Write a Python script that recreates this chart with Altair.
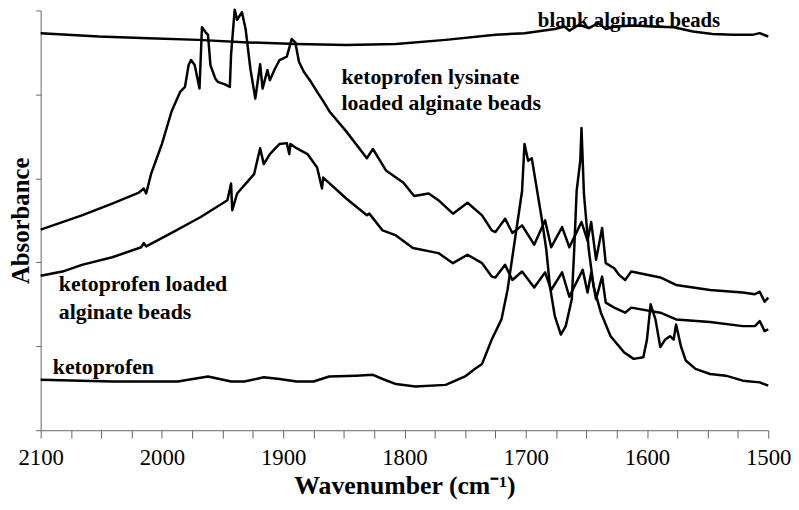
import altair as alt
import pandas as pd

# ---- data (wavenumber cm-1, absorbance a.u.) ----
blank_wn = [2100, 2052, 2011, 1970, 1929, 1889, 1848, 1807, 1766, 1725, 1701, 1676, 1668, 1664,
            1656, 1648, 1640, 1634, 1627, 1611, 1595, 1578, 1562, 1546, 1529, 1513, 1507, 1500]
blank_abs = [4.73, 4.69, 4.67, 4.65, 4.62, 4.60, 4.59, 4.60, 4.65, 4.71, 4.73, 4.78, 4.81, 4.76,
             4.83, 4.79, 4.85, 4.78, 4.81, 4.82, 4.81, 4.80, 4.75, 4.72, 4.71, 4.71, 4.73, 4.69]

lys_wn = [2100, 2066, 2041, 2019, 2015, 2013, 2009, 2000, 1992, 1985,
          1981, 1978, 1976, 1973, 1969, 1967, 1964, 1962, 1960, 1956,
          1954, 1948, 1944, 1943, 1940, 1938, 1934, 1931, 1927, 1923,
          1919, 1917, 1913, 1911, 1907, 1903, 1897, 1893, 1890, 1887,
          1883, 1878, 1872, 1867, 1862, 1848, 1831, 1826, 1815, 1801,
          1792, 1780, 1772, 1760, 1748, 1736, 1728, 1725, 1717, 1711,
          1703, 1693, 1684, 1679, 1670, 1664, 1660, 1654, 1649, 1646,
          1642, 1637, 1634, 1627, 1623, 1618, 1613, 1589, 1576, 1548,
          1521, 1511, 1507, 1503, 1500]
lys_abs = [2.39, 2.56, 2.70, 2.83, 2.88, 2.82, 3.05, 3.41, 3.80, 4.03,
           4.09, 4.35, 4.41, 4.35, 4.07, 4.80, 4.74, 4.71, 4.35, 4.19,
           4.15, 4.12, 4.09, 4.47, 5.01, 4.89, 4.98, 4.78, 4.30, 3.95,
           4.36, 4.07, 4.29, 4.17, 4.30, 4.41, 4.45, 4.66, 4.62, 4.39,
           4.27, 4.17, 4.03, 3.92, 3.80, 3.56, 3.24, 3.35, 3.09, 2.95,
           2.79, 2.82, 2.74, 2.58, 2.71, 2.56, 2.38, 2.36, 2.52, 2.35,
           2.44, 2.21, 2.50, 2.18, 2.42, 2.18, 2.30, 2.48, 2.26, 2.48,
           2.03, 2.41, 1.99, 1.93, 1.85, 1.79, 1.89, 1.82, 1.73, 1.67,
           1.64, 1.62, 1.65, 1.53, 1.58]

kl_wn = [2100, 2082, 2066, 2041, 2017, 2015, 2013, 1992, 1968, 1946,
         1943, 1942, 1938, 1924, 1919, 1916, 1911, 1903, 1897, 1895,
         1894, 1889, 1880, 1872, 1868, 1867, 1848, 1831, 1829, 1818,
         1807, 1793, 1772, 1760, 1748, 1736, 1728, 1725, 1717, 1711,
         1703, 1693, 1684, 1679, 1670, 1664, 1660, 1653, 1649, 1646,
         1642, 1637, 1634, 1627, 1618, 1613, 1589, 1576, 1548, 1521,
         1511, 1507, 1503, 1500]
kl_abs = [1.84, 1.89, 1.97, 2.06, 2.18, 2.23, 2.19, 2.35, 2.54, 2.74,
          2.94, 2.62, 2.82, 3.05, 3.36, 3.17, 3.29, 3.41, 3.42, 3.29,
          3.41, 3.36, 3.29, 3.13, 2.88, 3.01, 2.76, 2.56, 2.58, 2.38,
          2.32, 2.17, 2.11, 1.99, 2.09, 1.99, 1.83, 1.82, 1.97, 1.79,
          1.89, 1.70, 1.88, 1.67, 1.88, 1.59, 1.71, 1.91, 1.64, 1.88,
          1.56, 1.83, 1.52, 1.46, 1.40, 1.46, 1.40, 1.32, 1.29, 1.24,
          1.24, 1.30, 1.18, 1.20]

keto_wn = [2100, 2041, 1987, 1962, 1943, 1932, 1916, 1903, 1889, 1875,
           1862, 1840, 1826, 1818, 1807, 1791, 1766, 1750, 1742, 1736,
           1728, 1720, 1715, 1709, 1703, 1701, 1698, 1695, 1691, 1687,
           1683, 1680, 1676, 1671, 1667, 1662, 1660, 1658, 1655, 1654,
           1652, 1648, 1644, 1638, 1630, 1619, 1611, 1603, 1600, 1597,
           1593, 1589, 1585, 1581, 1578, 1576, 1572, 1568, 1560, 1548,
           1535, 1521, 1507, 1500]
keto_abs = [0.60, 0.58, 0.58, 0.64, 0.58, 0.58, 0.63, 0.61, 0.58, 0.58,
            0.64, 0.65, 0.66, 0.61, 0.55, 0.52, 0.54, 0.64, 0.73, 0.79,
            1.08, 1.32, 1.67, 2.26, 2.85, 3.41, 3.21, 3.24, 2.89, 2.54,
            2.15, 1.71, 1.36, 1.14, 1.24, 1.56, 2.15, 2.85, 3.21, 3.60,
            2.82, 2.15, 1.71, 1.40, 1.12, 0.93, 0.85, 0.87, 1.08, 1.50,
            1.32, 0.99, 1.08, 1.12, 1.08, 1.26, 1.00, 0.83, 0.73, 0.67,
            0.65, 0.59, 0.57, 0.53]

series_names = ["blank alginate beads",
                "ketoprofen lysinate loaded alginate beads",
                "ketoprofen loaded alginate beads",
                "ketoprofen"]

label_text = ["blank alginate beads", "ketoprofen lysinate", "loaded alginate beads",
              "ketoprofen loaded", "alginate beads", "ketoprofen"]
label_wn = [1690, 1852, 1852, 2085, 2085, 2090]
label_abs = [4.80, 4.13, 3.81, 1.66, 1.32, 0.67]
label_size = [21, 22, 22, 22, 22, 22]

x_ticks = list(range(1500, 2101, 25))
y_ticks = [0, 1, 2, 3, 4, 5]

# ---- tables ----
rows = []
for name, wns, vals in zip(series_names,
                           [blank_wn, lys_wn, kl_wn, keto_wn],
                           [blank_abs, lys_abs, kl_abs, keto_abs]):
    for i, (w, v) in enumerate(zip(wns, vals)):
        rows.append({"series": name, "wn": w, "abs": v, "order": i})
df = pd.DataFrame(rows)
lab_df = pd.DataFrame({"text": label_text, "wn": label_wn, "abs": label_abs,
                       "size": label_size})

FONT = "Liberation Serif"
AX = "#666666"

x_scale = alt.Scale(domain=[1500, 2100], reverse=True, nice=False, zero=False)
y_scale = alt.Scale(domain=[0, 5], nice=False, zero=False)

x_axis = alt.Axis(values=x_ticks, format="d",
                  labelExpr="datum.value % 100 === 0 ? datum.label : ''",
                  title="Wavenumber (cm⁻¹)", titleFont=FONT, titleFontSize=26,
                  titleFontWeight="bold", titleColor="black", titleY=64,
                  titleBaseline="alphabetic",
                  labelFont=FONT, labelFontSize=23, labelColor="black",
                  labelPadding=9, labelFlush=False, labelOverlap=False,
                  tickSize=8, tickColor=AX, domainColor=AX, grid=False)
y_axis = alt.Axis(values=y_ticks, labels=False, tickSize=5, tickColor=AX,
                  domainColor=AX, grid=False, title="Absorbance",
                  titleFont=FONT, titleFontSize=25, titleFontWeight="bold",
                  titleColor="black", titlePadding=2)

lines = alt.Chart(df).mark_line(color="black", strokeWidth=2.5, strokeJoin="round").encode(
    x=alt.X("wn:Q", scale=x_scale, axis=x_axis),
    y=alt.Y("abs:Q", scale=y_scale, axis=y_axis),
    detail="series:N",
    order="order:Q",
)

texts = alt.Chart(lab_df).mark_text(align="left", baseline="alphabetic", font=FONT,
                                    fontWeight="bold", color="black").encode(
    x=alt.X("wn:Q", scale=x_scale, axis=x_axis),
    y=alt.Y("abs:Q", scale=y_scale, axis=y_axis),
    text="text:N",
    size=alt.Size("size:Q", scale=None, legend=None),
)

chart = alt.layer(lines, texts).properties(
    width=735, height=424,
    padding={"left": 33, "top": 0, "right": 23, "bottom": 70},
    autosize=alt.AutoSizeParams(type="none"),
    background="white",
).configure_view(stroke="transparent")

chart.save("out.html", embed_options={"renderer": "svg", "actions": False})
